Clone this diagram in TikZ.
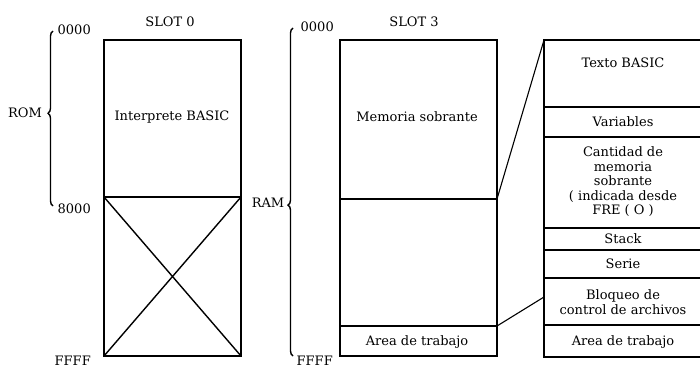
\documentclass[tikz,border=0pt]{standalone}
\usepackage{fontspec}
\setmainfont{DejaVu Serif}
\usetikzlibrary{decorations.pathreplacing}

\begin{document}
\begin{tikzpicture}
	[x=1pt, y=1pt, line width=1.4pt,
	 txt/.style={font=\fontsize{13}{14.5}\selectfont, align=center, inner sep=0pt},
	 addr/.style={font=\fontsize{13}{14}\selectfont, inner sep=0pt, anchor=west},
	 llave/.style={decorate, decoration={brace, amplitude=5pt, aspect=#1}}];

	\useasboundingbox (0,0) rectangle (700,370);

	%Slot 0
	\coordinate (s0nw) at (104,330);
	\coordinate (s0se) at (241,14);
	\coordinate (s0w) at (104,173);
	\coordinate (s0e) at (241,173);
	\draw (s0nw) rectangle (s0se);
	\draw (s0w) -- (s0e);
	\draw (s0w) -- (s0se);
	\draw (s0e) -- (s0nw |- s0se);
	\node[txt] (slotcero) at (170,348) {SLOT 0};
	\node[txt] (interprete) at (172,253) {Interprete BASIC};

	%ROM
	\coordinate (romtop) at (53,339);
	\coordinate (rombot) at (53,164);
	\draw[llave=0.53] (rombot) -- (romtop);
	\node[txt] (rom) at (25,257) {ROM};
	\node[addr] (romini) at (57,340) {0000};
	\node[addr] (romfin) at (57,161) {8000};
	\node[addr] (romend) at (54,9) {FFFF};

	%Slot 3
	\coordinate (s3nw) at (340,330);
	\coordinate (s3se) at (497,14);
	\coordinate (s3a) at (340,171);
	\coordinate (s3b) at (497,171);
	\coordinate (s3c) at (340,44);
	\coordinate (s3d) at (497,44);
	\draw (s3nw) rectangle (s3se);
	\draw (s3a) -- (s3b);
	\draw (s3c) -- (s3d);
	\node[txt] (slottres) at (414,348) {SLOT 3};
	\node[txt] (sobrante) at (417,253) {Memoria sobrante};
	\node[txt] (trabajo) at (417,28) {Area de trabajo};

	%RAM
	\coordinate (ramtop) at (293,342);
	\coordinate (rambot) at (293,14);
	\draw[llave=0.46] (rambot) -- (ramtop);
	\node[txt] (ram) at (268,167) {RAM};
	\node[addr] (ramini) at (300,343) {0000};
	\node[addr] (ramend) at (296,9) {FFFF};

	%Ampliacion
	\coordinate (amnw) at (544,330);
	\coordinate (amse) at (703,13);
	\coordinate (amw) at (544,73);
	\draw (amnw) rectangle (amse);
	\foreach \y in {263,233,142,120,92,45}
		\draw (544,\y) -- (703,\y);
	\node[txt] (texto) at (623,307) {Texto BASIC};
	\node[txt] (variables) at (623,248) {Variables};
	\node[txt] (cantidad) at (623,188) {Cantidad de\\memoria\\sobrante\\( indicada desde\\FRE ( O )};
	\node[txt] (stack) at (623,131) {Stack};
	\node[txt] (serie) at (623,106) {Serie};
	\node[txt] (bloqueo) at (623,68) {Bloqueo de\\control de archivos};
	\node[txt] (trabajob) at (623,28) {Area de trabajo};

	\draw[line width=1.1pt] (s3b) -- (amnw);
	\draw[line width=1.1pt] (s3d) -- (amw);
\end{tikzpicture}
\end{document}
